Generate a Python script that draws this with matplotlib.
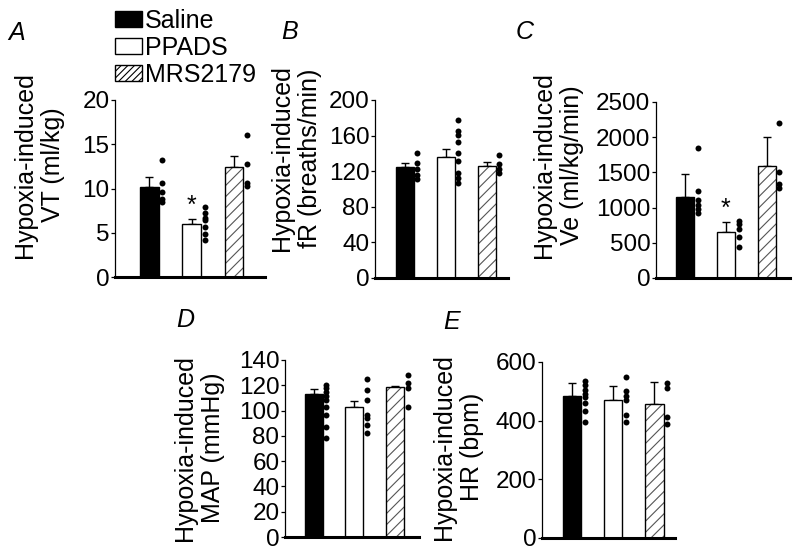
#!/usr/bin/env python3
"""Hypoxia-induced responses after saline, PPADS and MRS2179 (panels A-E)."""

import matplotlib
matplotlib.use("Agg")
import matplotlib.pyplot as plt
from matplotlib.patches import Patch

plt.rcParams['font.family'] = ['Liberation Sans', 'DejaVu Sans']
plt.rcParams['hatch.linewidth'] = 0.8

groups = ['Saline', 'PPADS', 'MRS2179']

# panel A - tidal volume
vt_mean = [10.2, 6.0, 12.4]
vt_sem = [1.1, 0.5, 1.3]
vt_pts = [[13.2, 10.6, 9.6, 8.8, 8.5],
          [7.9, 7.2, 6.7, 6.4, 5.7, 4.9, 4.2],
          [16.0, 12.8, 10.6, 10.3]]

# panel B - breathing frequency
fr_mean = [124.5, 135.7, 126.0]
fr_sem = [4.5, 9.5, 4.0]
fr_pts = [[140, 129, 123, 116, 111],
          [178, 165, 161, 153, 141, 131, 118, 112, 107],
          [138, 128, 123, 118]]

# panel C - minute ventilation
ve_mean = [1146, 651, 1590]
ve_sem = [330, 146, 415]
ve_pts = [[1849, 1240, 1108, 1038, 976, 920],
          [816, 769, 693, 580, 439],
          [2208, 1505, 1335, 1283]]

# panel D - mean arterial pressure
map_mean = [113.0, 102.7, 118.9]
map_sem = [3.7, 4.8, 0.7]
map_pts = [[120, 117.5, 115, 111.5, 108.3, 103, 96.4, 87.2, 78],
           [124.7, 116.2, 108.3, 96.4, 93.8, 88.5, 82.4],
           [128, 121.5, 117.5, 103]]

# panel E - heart rate
hr_mean = [483, 472, 458]
hr_sem = [47, 46, 74]
hr_pts = [[535, 521, 506, 492, 479, 461, 434, 394],
          [549, 501, 483, 470, 419, 394],
          [529, 513, 411, 387]]

W, H = 800, 552


def rect(left, right, top, bottom):
    # pixel box -> figure fraction
    return [left / W, 1 - bottom / H, (right - left) / W, (bottom - top) / H]


def draw_panel(ax, means, sems, pts, yticks, xlim, star=False):
    x = [0, 1, 2]
    bw = 0.44
    ax.bar(x[0], means[0], bw, color='black', edgecolor='black', lw=1, zorder=2)
    ax.bar(x[1], means[1], bw, color='white', edgecolor='black', lw=1, zorder=2)
    ax.bar(x[2], means[2], bw, color='white', edgecolor='#555555', lw=0,
           hatch='///', zorder=2)
    ax.bar(x[2], means[2], bw, fill=False, edgecolor='black', lw=1, zorder=3)
    ax.errorbar(x, means, yerr=[[0, 0, 0], sems], fmt='none', ecolor='black',
                elinewidth=1, capsize=3, capthick=1, zorder=1)
    for i, vals in enumerate(pts):
        ax.plot([x[i] + 0.31] * len(vals), vals, 'o', color='black',
                markersize=4.3, markeredgewidth=0, zorder=4, clip_on=False)
    if star:
        ax.annotate('*', (x[1], means[1] + sems[1]), xytext=(0, 1),
                    textcoords='offset points', ha='center', va='bottom',
                    fontsize=18)
    ax.set_xlim(*xlim)
    ax.set_ylim(yticks[0], yticks[-1])
    ax.set_yticks(yticks)
    ax.set_xticks([])
    for s in ['top', 'right']:
        ax.spines[s].set_visible(False)
    ax.spines['left'].set_linewidth(0.9)
    ax.spines['bottom'].set_linewidth(2.2)
    ax.tick_params(axis='y', labelsize=17.5, length=3, width=0.9, pad=1)


fig = plt.figure(figsize=(8, 5.52), dpi=100)

axA = fig.add_axes(rect(115, 265, 100, 277))
draw_panel(axA, vt_mean, vt_sem, vt_pts, [0, 5, 10, 15, 20], (-0.81, 2.73), star=True)
axB = fig.add_axes(rect(375, 508, 100, 278))
draw_panel(axB, fr_mean, fr_sem, fr_pts, [0, 40, 80, 120, 160, 200], (-0.72, 2.52))
axC = fig.add_axes(rect(656, 790, 102, 278))
draw_panel(axC, ve_mean, ve_sem, ve_pts, [0, 500, 1000, 1500, 2000, 2500],
           (-0.71, 2.57), star=True)
axD = fig.add_axes(rect(285, 419, 360, 537))
draw_panel(axD, map_mean, map_sem, map_pts, [0, 20, 40, 60, 80, 100, 120, 140],
           (-0.70, 2.58))
axE = fig.add_axes(rect(542, 675, 362, 538))
draw_panel(axE, hr_mean, hr_sem, hr_pts, [0, 200, 400, 600], (-0.74, 2.50))

# y labels and panel letters, placed in pixels
ylabels = [('Hypoxia-induced\nVT (ml/kg)', 39, 165),
           ('Hypoxia-induced\nfR (breaths/min)', 296, 158),
           ('Hypoxia-induced\nVe (ml/kg/min)', 558, 165),
           ('Hypoxia-induced\nMAP (mmHg)', 199, 448),
           ('Hypoxia-induced\nHR (bpm)', 458, 447)]
for txt, px, py in ylabels:
    fig.text(px / W, 1 - py / H, txt, rotation=90, ha='center', va='center',
             multialignment='center', fontsize=18, linespacing=1.2)

letters = [('A', 17, 33), ('B', 290, 32), ('C', 525, 32), ('D', 185, 320), ('E', 452, 322)]
for txt, px, py in letters:
    fig.text(px / W, 1 - py / H, txt, ha='center', va='center', fontsize=18,
             style='italic')

handles = [Patch(facecolor='black', edgecolor='black'),
           Patch(facecolor='white', edgecolor='black'),
           Patch(facecolor='white', edgecolor='black', hatch='/////')]
fig.legend(handles, groups, loc='upper left', bbox_to_anchor=(115 / W, 1 - 9 / H),
           frameon=False, fontsize=18, handlelength=1.08, handleheight=0.6,
           handletextpad=0.12, labelspacing=0.12, borderpad=0, borderaxespad=0)

fig.savefig('out.png', dpi=100)
